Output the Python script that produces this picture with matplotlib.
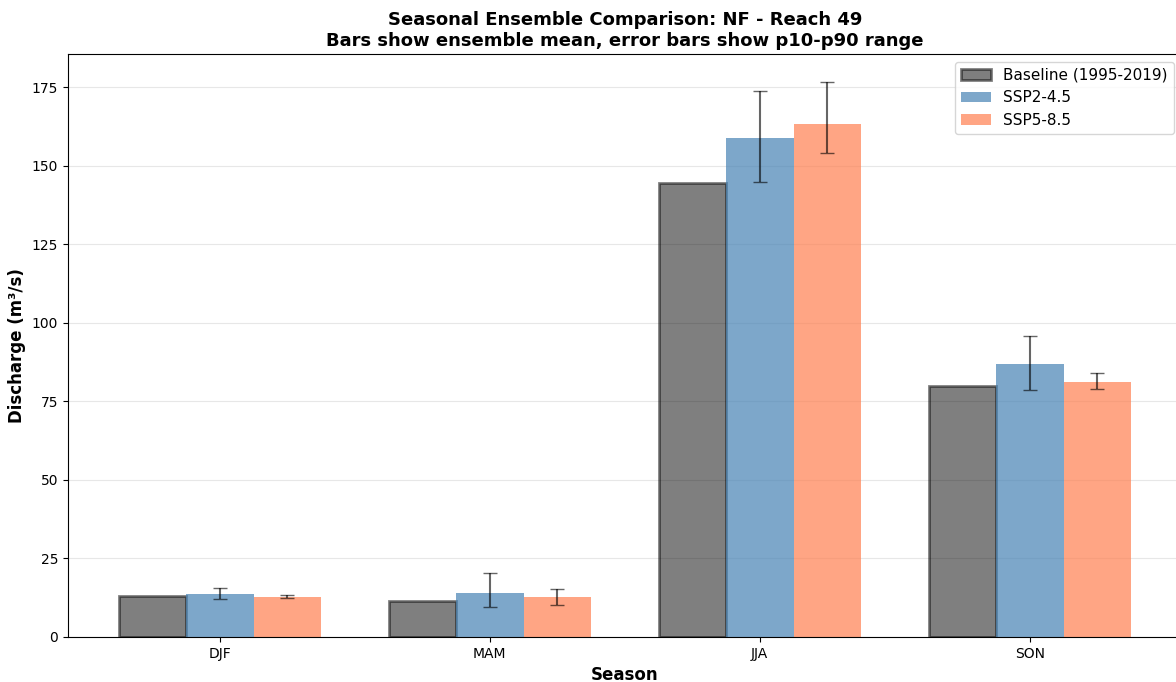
import numpy as np
import matplotlib.pyplot as plt

# seasonal ensemble stats
seasons = ['DJF', 'MAM', 'JJA', 'SON']
baseline = [13.1, 11.4, 144.6, 79.8]
ssp245_mean = [13.6, 14.1, 158.9, 87.0]
ssp245_p10 = [12.0, 9.7, 144.7, 78.5]
ssp245_p90 = [15.7, 20.4, 173.8, 95.8]
ssp585_mean = [12.85, 12.65, 163.4, 81.3]
ssp585_p10 = [12.3, 10.1, 154.2, 78.8]
ssp585_p90 = [13.5, 15.3, 176.8, 83.9]

x = np.arange(len(seasons))
width = 0.25

fig = plt.figure(figsize=(11.76, 6.82), dpi=100)
ax = fig.add_axes([0.0578, 0.066, 0.947, 0.855])

ax.bar(x - width, baseline, width, color='black', alpha=0.5,
       edgecolor='black', linewidth=2, label='Baseline (1995-2019)')

m1 = np.array(ssp245_mean)
err1 = [m1 - np.array(ssp245_p10), np.array(ssp245_p90) - m1]
ax.bar(x, m1, width, color='steelblue', alpha=0.7, label='SSP2-4.5',
       yerr=err1, capsize=5, error_kw={'ecolor': 'black', 'alpha': 0.6, 'elinewidth': 1.5})

m2 = np.array(ssp585_mean)
err2 = [m2 - np.array(ssp585_p10), np.array(ssp585_p90) - m2]
ax.bar(x + width, m2, width, color='coral', alpha=0.7, label='SSP5-8.5',
       yerr=err2, capsize=5, error_kw={'ecolor': 'black', 'alpha': 0.6, 'elinewidth': 1.5})

ax.set_xticks(x)
ax.set_xticklabels(seasons)
ax.set_xlabel('Season', fontsize=12, fontweight='bold')
ax.set_ylabel('Discharge (m³/s)', fontsize=12, fontweight='bold')
ax.set_title('Seasonal Ensemble Comparison: NF - Reach 49\n'
             'Bars show ensemble mean, error bars show p10-p90 range',
             fontsize=13, fontweight='bold')
ax.legend(loc='upper right', fontsize=11)
ax.grid(axis='y', alpha=0.3)
ax.set_axisbelow(True)

fig.savefig('out.png', dpi=100)
